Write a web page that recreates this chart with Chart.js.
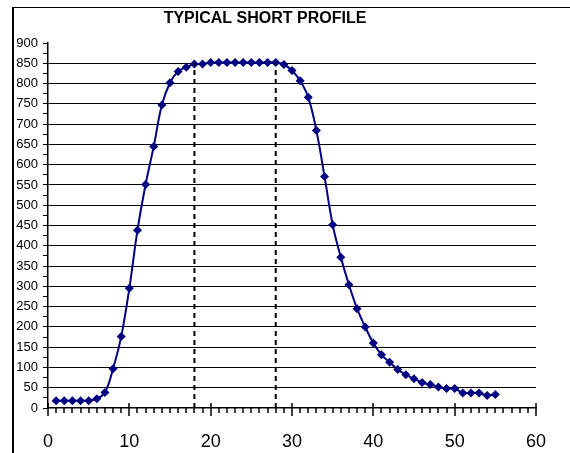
<!DOCTYPE html>
<html>
<head>
<meta charset="utf-8">
<script src="https://cdn.jsdelivr.net/npm/chart.js@4.4.1/dist/chart.umd.min.js"></script>
<style>
  html, body { margin: 0; padding: 0; background: #fff; overflow: hidden; }
  #wrap { position: relative; width: 570px; height: 453px; }
  #frame {
    position: absolute; left: 12px; top: 7px; width: 600px; height: 500px;
    border-left: 2px solid #000; border-top: 1.5px solid #000;
  }
  #chart { position: absolute; left: 0; top: 0; }
</style>
</head>
<body>
<div id="wrap">
  <div id="frame"></div>
  <canvas id="chart" width="570" height="453"></canvas>
</div>
<script>
/* Data */
const titleText = "TYPICAL SHORT PROFILE";
const profileX = [1, 2, 3, 4, 5, 6, 7, 8, 9, 10, 11, 12, 13, 14, 15, 16, 17, 18, 19, 20,
  21, 22, 23, 24, 25, 26, 27, 28, 29, 30, 31, 32, 33, 34, 35, 36, 37, 38, 39, 40,
  41, 42, 43, 44, 45, 46, 47, 48, 49, 50, 51, 52, 53, 54, 55];
const profileY = [18, 18, 18, 18, 18, 23, 38, 97, 176, 295, 438, 551, 645, 747, 802, 830, 840, 848, 848, 852,
  852, 852, 852, 852, 852, 852, 852, 852, 847, 832, 807, 766, 684, 571, 452, 372, 304, 245, 200, 160,
  131, 113, 95, 82, 72, 63, 58, 52, 48, 48, 37, 37, 37, 31, 33];
const markerX = [18, 28];      // dashed verticals
const markerTop = 850;
const xTicks = [0, 10, 20, 30, 40, 50, 60];
const yMax = 900;

/* Dashed vertical lines */
const markerSets = markerX.map((mx) => ({
  data: [{ x: mx, y: 0 }, { x: mx, y: markerTop }],
  borderColor: "#000",
  borderWidth: 2,
  borderDash: [5, 4],
  pointRadius: 0,
  tension: 0,
}));

/* Title + x axis tick marks */
const decor = {
  id: "decor",
  afterDraw(chart) {
    const { ctx, chartArea, scales: { x } } = chart;
    ctx.save();
    ctx.strokeStyle = "#000";
    ctx.lineWidth = 1.5;
    for (let v = 0; v <= 60; v++) {
      const px = Math.round(x.getPixelForValue(v));
      const major = xTicks.includes(v);
      ctx.beginPath();
      ctx.moveTo(px, chartArea.bottom - (major ? 5 : 0));
      ctx.lineTo(px, chartArea.bottom + (major ? 8 : 5));
      ctx.stroke();
    }
    ctx.fillStyle = "#000";
    ctx.font = 'bold 16px "Liberation Sans", Arial, sans-serif';
    ctx.textAlign = "center";
    ctx.textBaseline = "middle";
    ctx.fillText(titleText, 265, 19);
    ctx.restore();
  },
};

const ctx = document.getElementById("chart").getContext("2d");
new Chart(ctx, {
  type: "line",
  data: {
    datasets: [
      ...markerSets,
      {
        data: profileX.map((v, i) => ({ x: v, y: profileY[i] })),
        borderColor: "#000080",
        backgroundColor: "#000080",
        borderWidth: 2,
        tension: 0.4,
        pointStyle: "rectRot",
        pointRadius: 4.5,
        pointBorderWidth: 0,
      },
    ],
  },
  options: {
    responsive: false,
    animation: false,
    layout: { padding: { left: 0, top: 43, right: 34, bottom: 0 } },
    plugins: { legend: { display: false }, tooltip: { enabled: false } },
    scales: {
      x: {
        type: "linear",
        min: 0,
        max: 60,
        afterFit: (s) => { s.height = 45; },
        grid: { drawOnChartArea: false, drawTicks: false },
        border: { display: true, color: "#000", width: 1.5 },
        ticks: {
          stepSize: 10,
          padding: 23,
          maxRotation: 0,
          color: "#000",
          font: { family: '"Liberation Sans", Arial, sans-serif', size: 18 },
        },
      },
      y: {
        min: 0,
        max: yMax,
        afterFit: (s) => { s.width = 48; },
        grid: {
          color: (c) => {
            const v = c.tick ? c.tick.value : 0;
            return v % 50 === 0 && v > 0 && v < yMax ? "#000" : "rgba(0,0,0,0)";
          },
          tickColor: "#000",
          tickLength: 5,
          lineWidth: 1,
        },
        border: { display: true, color: "#000", width: 1.5 },
        ticks: {
          stepSize: 25,
          autoSkip: false,
          padding: 5,
          color: "#000",
          font: { family: '"Liberation Sans", Arial, sans-serif', size: 13 },
          callback: (v) => (v % 50 === 0 ? String(v) : ""),
        },
      },
    },
  },
  plugins: [decor],
});
</script>
</body>
</html>
